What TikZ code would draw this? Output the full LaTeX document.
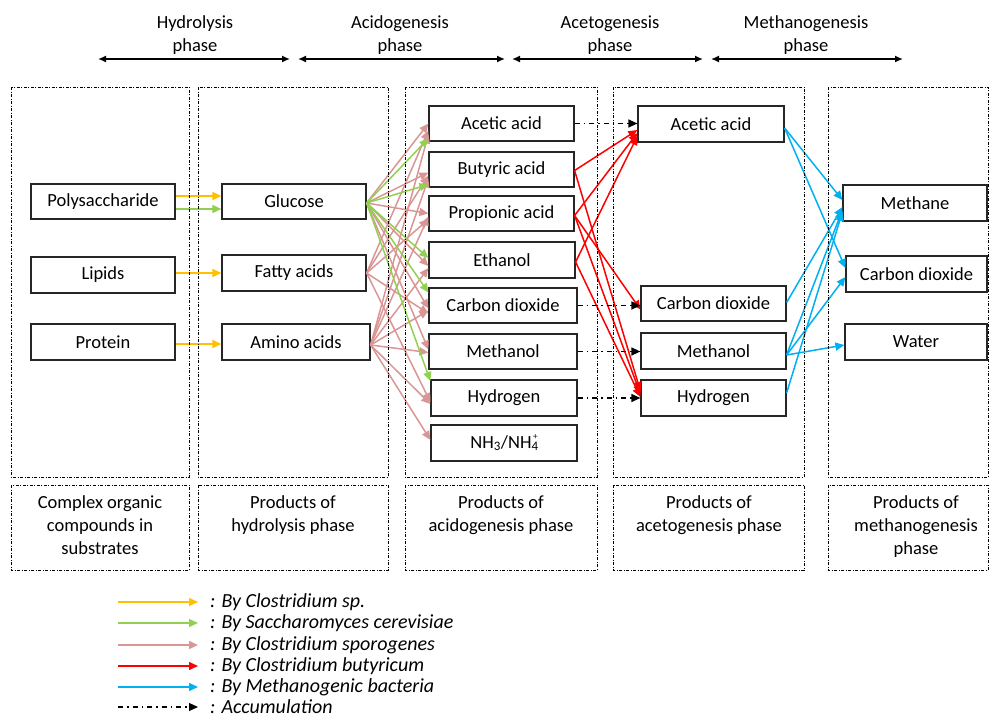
\documentclass[tikz,border=0pt]{standalone}
\usepackage{fontspec}
\setmainfont{Carlito}
\usetikzlibrary{arrows.meta,calc}
\definecolor{cyel}{HTML}{FFC000}
\definecolor{cgrn}{HTML}{92D050}
\definecolor{cpnk}{HTML}{D99694}
\definecolor{cred}{HTML}{FF0000}
\definecolor{cblu}{HTML}{00B0F0}
\begin{document}
\begin{tikzpicture}[x=1pt,y=-1pt,font=\fontsize{18.5}{23}\selectfont,
  box/.style={draw=black!85, line width=1.2pt, minimum height=35pt, inner sep=0pt, align=center},
  cont/.style={draw=black, line width=0.9pt, dash pattern=on 3pt off 1.5pt on 1pt off 1.5pt},
  arr/.style={-{Triangle[length=9pt,width=8pt]}, line width=1.5pt},
  yel/.style={arr, draw=cyel, fill=cyel},
  grn/.style={arr, draw=cgrn, fill=cgrn},
  pnk/.style={arr, draw=cpnk, fill=cpnk},
  rd/.style={arr, draw=cred, fill=cred},
  blu/.style={arr, draw=cblu, fill=cblu},
  acc/.style={-{Triangle[length=9pt,width=8pt]}, line width=1.2pt, draw=black, dash pattern=on 5pt off 4pt on 1.5pt off 4pt},
  phase/.style={{Latex[length=8pt,width=7pt]}-{Latex[length=8pt,width=7pt]}, line width=1.5pt},
  lbl/.style={align=center, anchor=north, inner sep=0pt},
  leg/.style={anchor=west, inner sep=0pt, font=\fontsize{20}{24}\selectfont\itshape}]
\useasboundingbox (0,0) rectangle (989,720);

% header
\node[align=center] (h1) at (195,35) {Hydrolysis\\phase};
\node[align=center] (h2) at (400,35) {Acidogenesis\\phase};
\node[align=center] (h3) at (610,35) {Acetogenesis\\phase};
\node[align=center] (h4) at (806,35) {Methanogenesis\\phase};
\coordinate (p1a) at (98,59); \coordinate (p1b) at (290,59);
\coordinate (p2a) at (298,59); \coordinate (p2b) at (505,59);
\coordinate (p3a) at (512,59); \coordinate (p3b) at (703,59);
\coordinate (p4a) at (711,59); \coordinate (p4b) at (903,59);
\draw[phase] (p1a) -- (p1b);
\draw[phase] (p2a) -- (p2b);
\draw[phase] (p3a) -- (p3b);
\draw[phase] (p4a) -- (p4b);

% column 1
\node[box, minimum width=144pt] (poly) at (103,201.5) {Polysaccharide};
\node[box, minimum width=144pt, minimum height=36pt] (lip) at (103,275) {Lipids};
\node[box, minimum width=144pt, minimum height=36pt] (prot) at (103,342) {Protein};
% column 2
\node[box, minimum width=144pt] (gluc) at (294,201.5) {Glucose};
\node[box, minimum width=144pt, minimum height=36pt] (fatty) at (294,273) {Fatty acids};
\node[box, minimum width=148pt, minimum height=36pt] (amino) at (296,342) {Amino acids};
% column 3
\node[box, minimum width=145pt] (ac3) at (501.5,123.5) {Acetic acid};
\node[box, minimum width=145pt] (but3) at (501.5,169.5) {Butyric acid};
\node[box, minimum width=145pt] (pro3) at (501.5,213.5) {Propionic acid};
\node[box, minimum width=146pt, minimum height=36pt] (eth3) at (502,260) {Ethanol};
\node[box, minimum width=148pt] (co3) at (503,305.5) {Carbon dioxide};
\node[box, minimum width=148pt] (meo3) at (503,351.5) {Methanol};
\node[box, minimum width=146pt, minimum height=36pt] (hy3) at (504,398) {Hydrogen};
\node[box, minimum width=146pt, minimum height=36pt] (nh3) at (504,443) {NH\textsubscript{3}/NH\textsubscript{4}\kern-0.3em\raisebox{0.45em}{\fontsize{9}{9}\selectfont +}};
% column 4
\node[box, minimum width=146pt, minimum height=36pt] (ac4) at (711,124) {Acetic acid};
\node[box, minimum width=145pt] (co4) at (713.5,303.5) {Carbon dioxide};
\node[box, minimum width=145pt, minimum height=36pt] (meo4) at (713.5,351) {Methanol};
\node[box, minimum width=145pt, minimum height=36pt] (hy4) at (713.5,398) {Hydrogen};
% column 5
\node[box, minimum width=144pt, minimum height=36pt] (mth) at (915,203) {Methane};
\node[box, minimum width=141pt, minimum height=36pt] (co5) at (916.5,274) {Carbon dioxide};
\node[box, minimum width=142pt, minimum height=36pt] (wat) at (916,342) {Water};

% yellow
\draw[yel] ([yshift=5.5pt]poly.east) -- ([yshift=5.5pt]gluc.west);
\draw[grn] ([yshift=-7.5pt]poly.east) -- ([yshift=-7.5pt]gluc.west);
\draw[yel] ([yshift=2pt]lip.east) -- ([yshift=2pt]fatty.west |- lip.east);
\draw[yel] ([yshift=-2pt]prot.east) -- ([yshift=-2pt]amino.west |- prot.east);

% pink
\draw[pnk] ([yshift=-1.5pt]gluc.east) -- (ac3.west);
\draw[pnk] ([yshift=-1.5pt]gluc.east) -- ([yshift=-3pt]but3.west);
\draw[pnk] ([yshift=-1.5pt]gluc.east) -- ([yshift=0pt]pro3.west);
\draw[pnk] ([yshift=-1.5pt]gluc.east) -- ([yshift=-6pt]eth3.west);
\draw[pnk] ([yshift=-1.5pt]gluc.east) -- ([yshift=-3pt]co3.west);
\draw[pnk] ([yshift=-1.5pt]gluc.east) -- ([yshift=2pt]meo3.west);
\draw[pnk] (fatty.east) -- ([yshift=-7pt]ac3.west);
\draw[pnk] (fatty.east) -- ([yshift=-6pt]but3.west);
\draw[pnk] (fatty.east) -- ([yshift=-6pt]pro3.west);
\draw[pnk] (fatty.east) -- ([yshift=-8pt]co3.west);
\draw[pnk] (fatty.east) -- ([yshift=-4pt]hy3.west);
\draw[pnk] ([yshift=-3pt]amino.east) -- ([yshift=-11pt]ac3.west);
\draw[pnk] ([yshift=-3pt]amino.east) -- ([yshift=-9pt]but3.west);
\draw[pnk] ([yshift=-3pt]amino.east) -- ([yshift=-3pt]pro3.west);
\draw[pnk] ([yshift=-3pt]amino.east) -- ([yshift=-8pt]eth3.west);
\draw[pnk] ([yshift=-3pt]amino.east) -- ([yshift=-5pt]co3.west);
\draw[pnk] ([yshift=-3pt]amino.east) -- ([yshift=-1pt]meo3.west);
\draw[pnk] ([yshift=-3pt]amino.east) -- ([yshift=-6pt]hy3.west);
\draw[pnk] ([yshift=-3pt]amino.east) -- ([yshift=3pt]nh3.west);

% green
\draw[grn] ([yshift=-1.5pt]gluc.east) -- ([yshift=-15pt]ac3.west);
\draw[grn] ([yshift=-1.5pt]gluc.east) -- ([yshift=-15pt]but3.west);
\draw[grn] ([yshift=-1.5pt]gluc.east) -- ([yshift=2pt]eth3.west);
\draw[grn] ([yshift=-1.5pt]gluc.east) -- ([yshift=13pt]co3.west);
\draw[grn] ([yshift=-1.5pt]gluc.east) -- ([yshift=17pt]hy3.west);

% red
\draw[rd] ([yshift=-1pt]but3.east) -- ([yshift=-6pt]ac4.west);
\draw[rd] ([yshift=-1pt]but3.east) -- ([yshift=7pt]hy4.west);
\draw[rd] ([yshift=-2pt]pro3.east) -- ([yshift=-9pt]ac4.west);
\draw[rd] ([yshift=-2pt]pro3.east) -- ([yshift=-6pt]co4.west);
\draw[rd] ([yshift=-2pt]pro3.east) -- ([yshift=4pt]hy4.west);
\draw[rd] ([yshift=-2pt]eth3.east) -- ([yshift=-12pt]ac4.west);
\draw[rd] ([yshift=-2pt]eth3.east) -- ([yshift=1pt]hy4.west);

% accumulation
\draw[acc] (ac3.east) -- (ac3.east -| ac4.west);
\draw[acc] (co3.east) -- (co3.east -| co4.west);
\draw[acc] (meo3.east) -- (meo3.east -| meo4.west);
\draw[acc] (hy3.east) -- (hy3.east -| hy4.west);

% blue
\draw[blu] ([yshift=-4pt]ac4.east) -- ([yshift=3pt]mth.west);
\draw[blu] ([yshift=-4pt]ac4.east) -- ([yshift=6pt]co5.west);
\draw[blu] ([yshift=1pt]co4.east) -- ([yshift=-4pt]mth.west);
\draw[blu] ([yshift=-4pt]meo4.east) -- ([yshift=-7pt]mth.west);
\draw[blu] ([yshift=-4pt]meo4.east) -- ([yshift=-3pt]co5.west);
\draw[blu] ([yshift=-4pt]meo4.east) -- ([yshift=-3pt]wat.west);
\draw[blu] ([yshift=5pt]hy4.east) -- ([yshift=-9pt]mth.west);

% containers
\draw[cont] (11,87) rectangle (189,477);
\draw[cont] (198,87) rectangle (388,477);
\draw[cont] (405,87) rectangle (597,477);
\draw[cont] (613,87) rectangle (804,477);
\draw[cont] (828,87) rectangle (988,477);
\draw[cont] (11,485) rectangle (189,570);
\draw[cont] (198,485) rectangle (388,570);
\draw[cont] (405,485) rectangle (597,570);
\draw[cont] (613,485) rectangle (804,570);
\draw[cont] (828,485) rectangle (988,570);

% bottom labels
\node[lbl] (b1) at (100,495) {Complex organic\\compounds in\\substrates};
\node[lbl] (b2) at (293,495) {Products of\\hydrolysis phase};
\node[lbl] (b3) at (501,495) {Products of\\acidogenesis phase};
\node[lbl] (b4) at (709,495) {Products of\\acetogenesis phase};
\node[lbl] (b5) at (916,495) {Products of\\methanogenesis\\phase};

% legend
\coordinate (l1a) at (118,602); \coordinate (l1b) at (198,602);
\coordinate (l2a) at (118,623); \coordinate (l2b) at (198,623);
\coordinate (l3a) at (118,645); \coordinate (l3b) at (198,645);
\coordinate (l4a) at (118,666); \coordinate (l4b) at (198,666);
\coordinate (l5a) at (118,687); \coordinate (l5b) at (198,687);
\coordinate (l6a) at (118,707); \coordinate (l6b) at (198,707);
\draw[yel] (l1a) -- (l1b);
\draw[grn] (l2a) -- (l2b);
\draw[pnk] (l3a) -- (l3b);
\draw[rd] (l4a) -- (l4b);
\draw[blu] (l5a) -- (l5b);
\draw[acc] (l6a) -- (l6b);
\node[leg] (t1) at (210,602) {: By Clostridium sp.};
\node[leg] (t2) at (210,623) {: By Saccharomyces cerevisiae};
\node[leg] (t3) at (210,645) {: By Clostridium sporogenes};
\node[leg] (t4) at (210,666) {: By Clostridium butyricum};
\node[leg] (t5) at (210,687) {: By Methanogenic bacteria};
\node[leg] (t6) at (210,707) {: Accumulation};
\end{tikzpicture}
\end{document}
